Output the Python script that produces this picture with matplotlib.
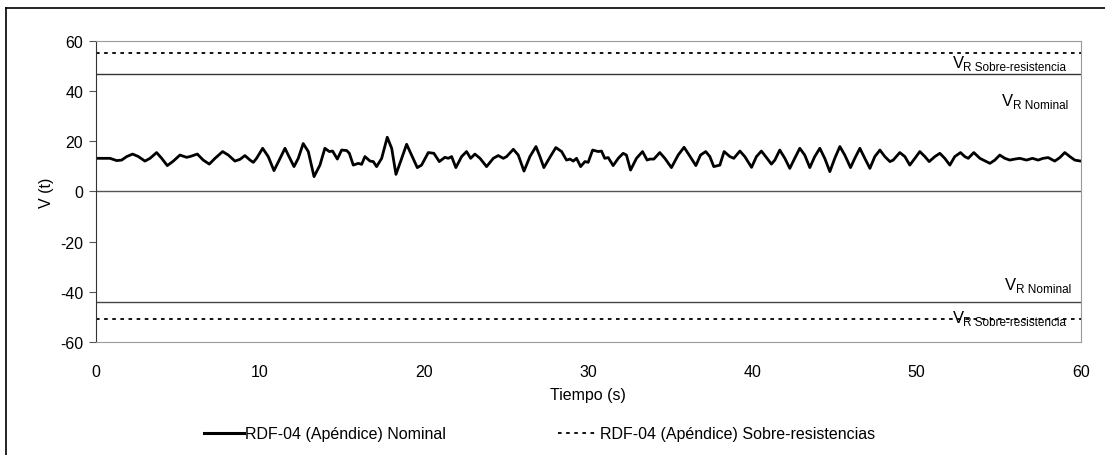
import matplotlib.pyplot as plt
from matplotlib.lines import Line2D

plt.rcParams['font.family'] = ['Liberation Sans', 'DejaVu Sans']
plt.rcParams['axes.unicode_minus'] = False

# registro V(t) (s, valor)
tiempo = [0.0, 0.87, 1.28, 1.58, 1.89, 2.25, 2.6, 3.0, 3.31, 3.71, 4.02, 4.36, 4.73, 5.13, 5.54,
          5.74, 6.19, 6.55, 6.92, 7.27, 7.73, 8.08, 8.48, 8.79, 9.09, 9.4, 9.6, 9.8, 10.17, 10.51,
          10.86, 11.18, 11.53, 11.73, 12.08, 12.34, 12.64, 12.95, 13.3, 13.66, 13.96, 14.23, 14.43,
          14.72, 14.98,
          15.29, 15.45, 15.69, 16.0, 16.2, 16.4, 16.71, 16.91, 17.11, 17.42, 17.76, 18.03, 18.29,
          18.57, 18.94, 19.24, 19.59, 19.85, 20.26, 20.6, 20.93, 21.27, 21.48, 21.68, 21.94, 22.29,
          22.59, 22.84, 23.1, 23.41, 23.81, 24.22, 24.52, 24.83, 25.03, 25.44, 25.74, 26.09, 26.45,
          26.82, 27.06, 27.3, 27.63, 28.03, 28.38, 28.68, 28.89, 29.09, 29.29, 29.54, 29.8, 30.0,
          30.27,
          30.61, 30.81, 31.01, 31.22, 31.52, 31.83, 32.13, 32.33, 32.58, 32.94, 33.31, 33.59, 33.75,
          34.0, 34.36, 34.67, 35.07, 35.48, 35.84, 36.15, 36.56, 36.84, 37.16, 37.41, 37.65, 38.02,
          38.28, 38.63, 38.87, 39.24, 39.54, 39.95, 40.25, 40.55, 40.86, 41.16, 41.37, 41.67, 41.98,
          42.28, 42.58, 42.89, 43.19, 43.5, 43.8, 44.11, 44.41, 44.72, 45.02, 45.33,
          45.63, 45.98, 46.24, 46.55, 46.85, 47.16, 47.46, 47.77, 48.07, 48.38, 48.58, 48.98, 49.29,
          49.59, 49.9, 50.2, 50.51, 50.77, 51.12, 51.42, 51.72, 52.03, 52.33, 52.68, 52.94, 53.15,
          53.49, 53.86, 54.47, 54.77, 55.07, 55.38, 55.68, 55.99, 56.29, 56.7, 57.06, 57.41, 57.71,
          58.02, 58.42, 58.73, 59.03, 59.34, 59.64, 60.0]
v_t = [13.2, 13.2, 12.3, 12.5, 13.9, 14.9, 13.9, 12.1, 13.2, 15.5, 13.2, 10.3, 12.1, 14.5, 13.6,
       13.9, 14.9, 12.5, 10.9, 13.2, 15.9, 14.5, 12.1, 12.8, 14.3, 12.5, 11.6, 13.2, 17.2, 13.9,
       8.3, 12.5, 17.2, 14.5, 9.9, 13.2, 19.1, 15.9, 5.9, 10.5, 17.2, 15.9, 16.1,
       12.9, 16.5,
       16.3, 15.2, 10.5, 11.2, 10.8, 13.9, 12.1, 11.9, 9.9, 13.2, 21.6, 17.2, 6.8,
       11.9, 18.8, 14.5, 9.5, 10.5, 15.5, 15.2, 11.9, 13.6, 13.2, 13.9, 9.5, 13.9,
       15.9, 13.2, 14.9, 13.2, 9.9, 13.2, 14.3, 13.2, 13.9, 16.8, 14.5, 8.1, 13.9,
       17.9, 13.9, 9.5, 13.2, 17.5, 15.9, 12.5, 12.9, 12.1, 13.2, 9.9, 11.9, 11.6,
       16.5,
       15.9, 16.1, 13.2, 13.5, 10.3, 13.2, 15.2, 14.5, 8.5, 13.2, 15.9, 12.5, 12.9,
       12.9, 15.5, 13.2, 9.5, 14.5, 17.6, 14.5, 10.3, 14.5, 15.9, 13.9, 9.9, 10.5,
       15.9, 13.9, 13.2, 16.1, 13.9, 9.6, 13.9, 16.1, 13.5, 10.9, 12.5, 16.5, 13.2,
       9.2, 13.2, 17.2, 14.5, 9.5, 13.9, 17.2, 13.2, 7.9, 13.2, 17.9,
       14.5, 9.5, 13.2, 17.2, 13.2, 9.2, 13.9, 16.5, 13.9, 11.9, 12.5, 15.5, 13.9,
       10.5, 13.2, 15.9, 13.9, 11.9, 13.9, 15.2, 13.2, 10.5, 13.9, 15.5, 13.9, 13.2,
       15.5, 13.2, 11.2, 12.5, 14.5, 13.2, 12.5, 12.9, 13.2, 12.5, 13.2, 12.5, 13.2,
       13.5, 12.1, 13.5, 15.5, 13.9, 12.5, 12.1]

# limites de resistencia
vr_nominal_pos = 47
vr_nominal_neg = -44
vr_sobre_pos = 55
vr_sobre_neg = -51

fig = plt.figure(figsize=(11.05, 4.56), dpi=100)
ax = fig.add_axes([0.0866, 0.248, 0.8914, 0.660])

# marco exterior
fig.add_artist(Line2D([6/1105, 6/1105], [0, 1 - 9/456], color='black', lw=1.2))
fig.add_artist(Line2D([6/1105, 1], [1 - 9/456, 1 - 9/456], color='black', lw=1.2))

ax.axhline(vr_sobre_pos, color='black', ls=(0, (2, 2.5)), lw=1.3)
ax.axhline(vr_sobre_neg, color='black', ls=(0, (2, 2.5)), lw=1.3)
ax.axhline(vr_nominal_pos, color='#333333', lw=1.0)
ax.axhline(vr_nominal_neg, color='#444444', lw=1.0)
ax.axhline(0, color='#555555', lw=1.0)

ax.plot(tiempo, v_t, color='black', lw=2.0, solid_joinstyle='round', solid_capstyle='round')

ax.set_xlim(0, 60)
ax.set_ylim(-60, 60)
ax.set_xticks(range(0, 61, 10))
ax.set_yticks(range(-60, 61, 20))
ax.tick_params(axis='x', length=0, pad=16, labelsize=11.5)
ax.tick_params(axis='y', length=5, color='#555555', labelsize=11.5, pad=4)
for s in ['top', 'right', 'bottom']:
    ax.spines[s].set_color('#999999')
ax.spines['left'].set_color('#333333')

ax.set_xlabel('Tiempo (s)', fontsize=11.5, labelpad=6)
ax.set_ylabel('V (t)', fontsize=11.5, labelpad=4)

# etiquetas V_R
def etiqueta(x_v, x_sub, y, sub):
    ax.text(x_v, y, 'V', fontsize=12, ha='left', va='baseline')
    ax.text(x_sub, y - 1.2, sub, fontsize=8.5, ha='left', va='baseline')

etiqueta(52.2, 52.85, 49.6, 'R Sobre-resistencia')
etiqueta(55.2, 55.85, 34.4, 'R Nominal')
etiqueta(55.4, 56.05, -38.8, 'R Nominal')
etiqueta(52.2, 52.85, -52.0, 'R Sobre-resistencia')

handles = [Line2D([], [], color='black', lw=2.2),
           Line2D([], [], color='black', lw=1.3, ls=(0, (2, 2.5)))]
fig.legend(handles, ['RDF-04 (Apéndice) Nominal', 'RDF-04 (Apéndice) Sobre-resistencias'],
           loc='center', bbox_to_anchor=(0.488, 1 - 435/456), ncol=2, frameon=False,
           fontsize=11.5, handlelength=2.5, handletextpad=0.1, columnspacing=7.0)

fig.savefig('out.png', dpi=100)
